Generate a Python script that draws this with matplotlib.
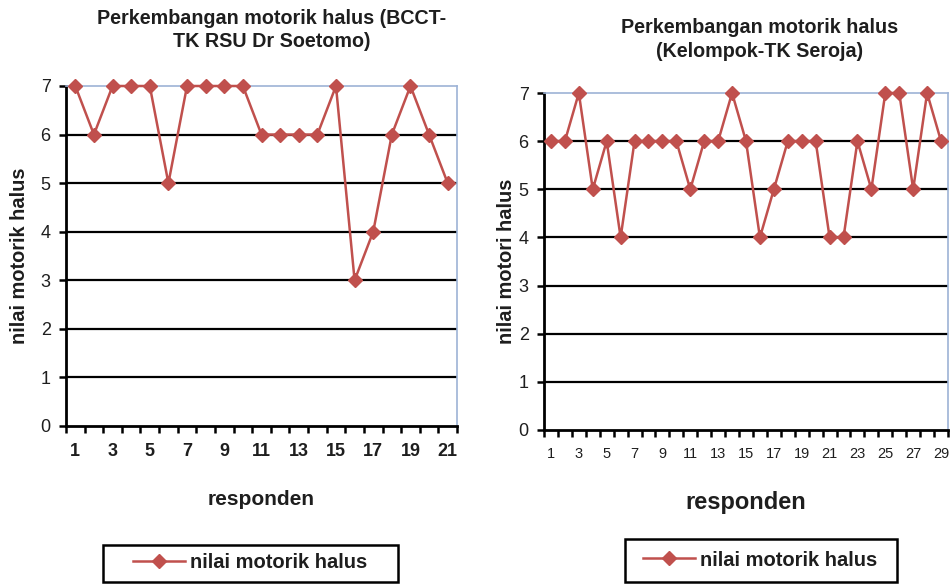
import matplotlib
matplotlib.use("Agg")
import matplotlib.pyplot as plt
from matplotlib.lines import Line2D
from matplotlib.patches import Rectangle

plt.rcParams['font.family'] = ['Liberation Sans', 'DejaVu Sans']

# Respondent scores, group 1 (BCCT-TK RSU Dr Soetomo)
resp_a = list(range(1, 22))
nilai_a = [7, 6, 7, 7, 7, 5, 7, 7, 7, 7, 6, 6, 6, 6, 7, 3, 4, 6, 7, 6, 5]

# Respondent scores, group 2 (Kelompok-TK Seroja)
resp_b = list(range(1, 30))
nilai_b = [6, 6, 7, 5, 6, 4, 6, 6, 6, 6, 5, 6, 6, 7, 6, 4, 5, 6, 6, 6,
           4, 4, 6, 5, 7, 7, 5, 7, 6]

yticks = [0, 1, 2, 3, 4, 5, 6, 7]
series_label = "nilai motorik halus"

RED = "#c0504d"
TXT = "#1e1e1e"
EDGE = "#9db3d6"

W, H = 952, 584
fig = plt.figure(figsize=(W / 100, H / 100), dpi=100)
fig.patch.set_facecolor("white")


def fx(px):
    return px / W


def fy(py):
    return 1 - py / H


def draw_panel(ax, x, y, ylabel, xlab_size, xtick_size, xtick_bold,
               ytick_size, xlab_pad, ylab_pad):
    n = len(x)
    ax.set_xlim(0.5, n + 0.5)
    ax.set_ylim(0, 7)
    for v in yticks[1:-1]:
        ax.axhline(v, color="black", lw=1.6, zorder=1)
    ax.plot(x, y, color=RED, lw=1.8, marker="D", markersize=7,
            markerfacecolor=RED, markeredgecolor=RED, zorder=3, clip_on=False)
    ax.spines["left"].set_color("black")
    ax.spines["left"].set_linewidth(2.0)
    ax.spines["bottom"].set_color("black")
    ax.spines["bottom"].set_linewidth(2.0)
    ax.spines["top"].set_color(EDGE)
    ax.spines["top"].set_linewidth(1.2)
    ax.spines["right"].set_color(EDGE)
    ax.spines["right"].set_linewidth(1.2)
    ax.set_yticks(yticks)
    ax.tick_params(axis="y", direction="out", length=5, width=1.8,
                   labelsize=ytick_size, labelcolor=TXT, pad=6)
    # labels on odd respondents, tick marks between categories
    ax.set_xticks([v for v in x if v % 2 == 1])
    ax.set_xticklabels([str(v) for v in x if v % 2 == 1],
                       fontweight="bold" if xtick_bold else "normal")
    ax.set_xticks([v + 0.5 for v in range(0, n + 1)], minor=True)
    ax.tick_params(axis="x", which="major", length=0, labelsize=xtick_size,
                   labelcolor=TXT, pad=12)
    ax.tick_params(axis="x", which="minor", direction="out", length=5,
                   width=1.8)
    ax.set_ylabel(ylabel, fontsize=14.4, fontweight="bold", color=TXT,
                  labelpad=ylab_pad)
    ax.set_xlabel("responden", fontsize=xlab_size, fontweight="bold",
                  color=TXT, labelpad=xlab_pad)


ax1 = fig.add_axes([fx(66), fy(426), fx(457 - 66), (426 - 86) / H])
draw_panel(ax1, resp_a, nilai_a, "nilai motorik halus",
           15, 13, True, 13, 22, 8)

ax2 = fig.add_axes([fx(544), fy(430), fx(948 - 544), (430 - 93) / H])
draw_panel(ax2, resp_b, nilai_b, "nilai motori halus",
           17, 10.5, False, 13, 22, 2)

# titles
fig.text(fx(272), fy(30), "Perkembangan motorik halus (BCCT-\nTK RSU Dr Soetomo)",
         ha="center", va="center", fontsize=14.2, fontweight="bold",
         color=TXT, linespacing=1.3)
fig.text(fx(760), fy(39.5), "Perkembangan motorik halus\n(Kelompok-TK Seroja)",
         ha="center", va="center", fontsize=14.2, fontweight="bold",
         color=TXT, linespacing=1.3)

handle = Line2D([], [], color=RED, lw=1.8, marker="D", markersize=7.5,
                markerfacecolor=RED, markeredgecolor=RED)

# legend boxes (open at the lower page edge)
for (bx0, bx1, btop, hx, ty) in [(103, 398, 545, 133, 563),
                                 (625, 897, 539, 643, 560)]:
    fig.patches.append(Rectangle((fx(bx0), fy(582)), fx(bx1 - bx0),
                                 (582 - btop) / H, transform=fig.transFigure,
                                 fill=False, edgecolor="black", lw=1.8))
    leg = fig.legend([handle], [series_label], loc="center left",
                     bbox_to_anchor=(fx(hx), fy(ty)), frameon=False,
                     prop={"weight": "bold", "size": 14.5},
                     handlelength=2.6, borderpad=0, handletextpad=0.25,
                     borderaxespad=0)
    for t in leg.get_texts():
        t.set_color(TXT)

fig.savefig("out.png", dpi=100, facecolor="white")
